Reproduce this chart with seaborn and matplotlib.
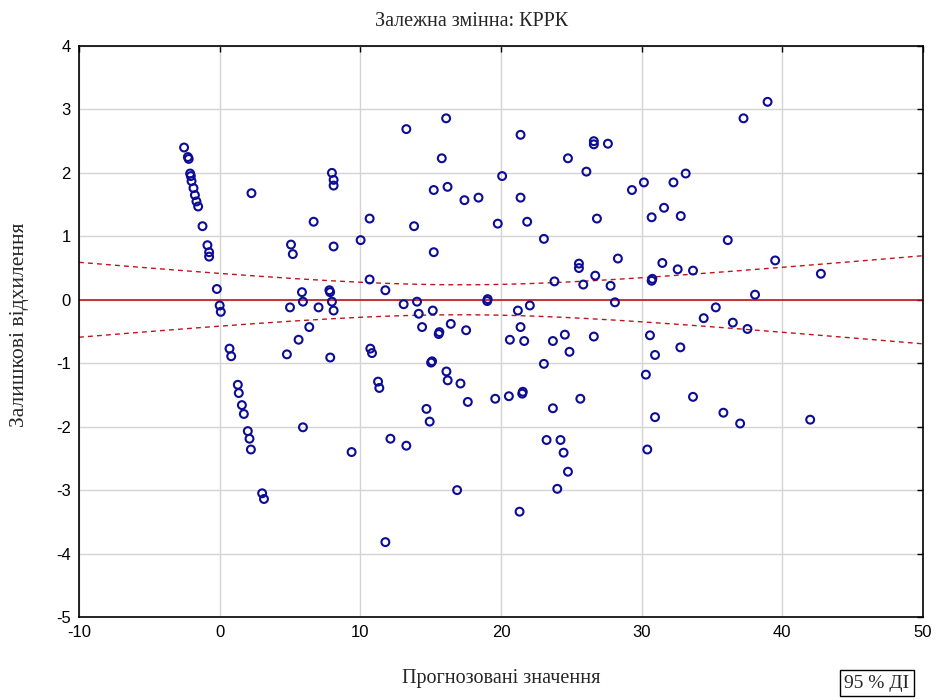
import numpy as np
import pandas as pd
import matplotlib
matplotlib.use("Agg")
import matplotlib.pyplot as plt
import seaborn as sns

# Predicted values (x) and residuals (y) of the regression model
predicted = [
    -2.53, -2.26, -2.20, -2.10, -2.05, -2.00, -1.86, -1.76, -1.65, -1.53,
    -1.22, -0.87, -0.75, -0.75, -0.20, 0.00, 0.08, 0.70, 0.82, 1.29,
    1.36, 1.58, 1.72, 2.00, 2.12, 2.22, 3.02, 3.15, 2.26,
    5.07, 5.20, 5.00, 4.78, 5.85, 5.92, 6.37, 5.61, 5.92, 6.68,
    7.03, 7.80, 7.85, 7.98, 8.10, 7.86, 7.98, 8.10, 8.10, 8.10,
    10.02, 10.66, 10.66, 10.71, 10.83, 11.26, 11.35, 11.78, 12.14, 9.38,
    11.78, 13.27, 13.82, 13.08, 14.03, 14.15, 14.39, 13.27, 14.70, 14.93,
    15.03, 15.10, 15.15, 15.22, 15.22, 15.57, 15.62, 15.79, 16.10, 16.20,
    16.12, 16.21, 16.43, 16.88, 17.12, 17.52, 17.40, 17.64, 18.40,
    19.02, 19.05, 19.59, 19.77, 20.08, 20.56, 20.63, 21.20, 21.39, 21.39,
    21.39, 21.51, 21.55, 21.65, 21.32, 21.86, 22.05, 23.05, 23.05, 23.24,
    23.69, 23.69, 23.80, 24.00, 24.23, 24.45, 24.54, 24.76, 24.76, 24.87,
    25.54, 25.54, 25.64, 25.85, 26.07, 26.60, 26.60, 26.60, 26.70, 26.82,
    27.60, 27.79, 28.10, 28.31,
    29.31, 30.16, 30.30, 30.40, 30.59, 30.71, 30.71, 30.76, 30.95, 30.95,
    31.47, 31.59, 32.26, 32.56, 32.75, 32.78, 33.13, 33.65, 33.65, 34.41,
    35.27, 35.81, 36.12, 36.48, 37.00, 37.24, 37.52, 38.06, 38.95, 39.49,
    41.98, 42.74,
]
residuals = [
    2.40, 2.25, 2.22, 1.99, 1.95, 1.87, 1.76, 1.65, 1.55, 1.47,
    1.16, 0.86, 0.75, 0.68, 0.17, -0.09, -0.19, -0.77, -0.89, -1.34,
    -1.47, -1.66, -1.80, -2.07, -2.19, -2.36, -3.05, -3.14, 1.68,
    0.87, 0.72, -0.12, -0.86, 0.12, -0.03, -0.43, -0.63, -2.01, 1.23,
    -0.12, 0.15, 0.12, -0.03, -0.17, -0.91, 2.00, 1.89, 1.80, 0.84,
    0.94, 1.28, 0.32, -0.77, -0.84, -1.29, -1.39, 0.15, -2.19, -2.40,
    -3.82, 2.69, 1.16, -0.07, -0.03, -0.22, -0.43, -2.30, -1.72, -1.92,
    -0.99, -0.97, -0.17, 1.73, 0.75, -0.54, -0.51, 2.23, 2.86, 1.78,
    -1.13, -1.27, -0.38, -3.00, -1.32, -0.48, 1.57, -1.61, 1.61,
    -0.02, 0.01, -1.56, 1.20, 1.95, -1.52, -0.63, -0.17, 2.60, 1.61,
    -0.43, -1.48, -1.45, -0.65, -3.34, 1.23, -0.09, 0.96, -1.01, -2.21,
    -0.65, -1.71, 0.29, -2.98, -2.21, -2.41, -0.55, 2.23, -2.71, -0.82,
    0.57, 0.50, -1.56, 0.24, 2.02, 2.50, 2.45, -0.58, 0.38, 1.28,
    2.46, 0.22, -0.04, 0.65,
    1.73, 1.85, -1.18, -2.36, -0.56, 1.30, 0.30, 0.33, -0.87, -1.85,
    0.58, 1.45, 1.85, 0.48, -0.75, 1.32, 1.99, 0.46, -1.53, -0.29,
    -0.12, -1.78, 0.94, -0.36, -1.95, 2.86, -0.46, 0.08, 3.12, 0.62,
    -1.89, 0.41,
]

title_text = "Залежна змінна: КРРК"
x_label = "Прогнозовані значення"
y_label = "Залишкові відхилення"
ci_label = "95 % ДІ"
x_ticks = [-10, 0, 10, 20, 30, 40, 50]
y_ticks = [4, 3, 2, 1, 0, -1, -2, -3, -4, -5]

df = pd.DataFrame({"pred": predicted, "resid": residuals})

# 95% confidence band of the (zero) regression line of residuals on predictions
n = len(df)
x_bar = df["pred"].mean()
sxx = ((df["pred"] - x_bar) ** 2).sum()
s = np.sqrt((df["resid"] ** 2).sum() / (n - 2))
t_crit = 1.975
grid_x = np.linspace(x_ticks[0], x_ticks[-1], 200)
half = t_crit * s * np.sqrt(1.0 / n + (grid_x - x_bar) ** 2 / sxx)
band = pd.DataFrame({"x": grid_x, "upper": half, "lower": -half, "fit": 0.0 * grid_x})

sns.set_style("white")
plt.rcParams["font.family"] = ["Liberation Sans", "DejaVu Sans"]
plt.rcParams["axes.unicode_minus"] = False

fig = plt.figure(figsize=(9.44, 7.0), dpi=100)
ax = fig.add_axes([79 / 944, 1 - 617 / 700, (923 - 79) / 944, (617 - 46) / 700])

navy = "#0c0c96"
red = "#c0141c"

sns.lineplot(data=band, x="x", y="fit", ax=ax, color=red, linewidth=1.2, zorder=2)
sns.lineplot(data=band, x="x", y="upper", ax=ax, color=red, linewidth=1.0,
             linestyle=(0, (3.5, 3)), zorder=2)
sns.lineplot(data=band, x="x", y="lower", ax=ax, color=red, linewidth=1.0,
             linestyle=(0, (3.5, 3)), zorder=2)

sns.scatterplot(data=df, x="pred", y="resid", ax=ax, marker="o", s=32,
                linewidth=1.5, zorder=3)
pts = ax.collections[-1]
pts.set_facecolor("none")
pts.set_edgecolor(navy)

ax.set_xlim(x_ticks[0], x_ticks[-1])
ax.set_ylim(min(y_ticks), max(y_ticks))
ax.set_xticks(x_ticks)
ax.set_yticks(y_ticks)
ax.grid(True, color="#d4d4d4", linewidth=1.0, zorder=0)
ax.set_axisbelow(True)
for sp in ax.spines.values():
    sp.set_color("black")
    sp.set_linewidth(1.2)
ax.tick_params(axis="both", which="both", direction="in", length=4, width=1,
               top=True, right=True, labelsize=12, colors="black", pad=6)
ax.set_xlabel("")
ax.set_ylabel("")

serif = ["Liberation Serif", "DejaVu Serif"]
fig.text(0.5, 1 - 22 / 700, title_text, ha="center", va="center",
         fontsize=14.5, family=serif)
fig.text((79 + 923) / 2 / 944, 1 - 679 / 700, x_label, ha="center", va="center",
         fontsize=14.5, family=serif)
fig.text(20 / 944, 1 - 325 / 700, y_label, ha="center", va="center",
         rotation=90, fontsize=15.5, family=serif)
fig.text(877 / 944, 1 - 683 / 700, ci_label, ha="center", va="center",
         fontsize=14, family=serif,
         bbox=dict(boxstyle="square,pad=0.25", facecolor="white",
                   edgecolor="black", linewidth=1.0))

fig.savefig("out.png", dpi=100)
